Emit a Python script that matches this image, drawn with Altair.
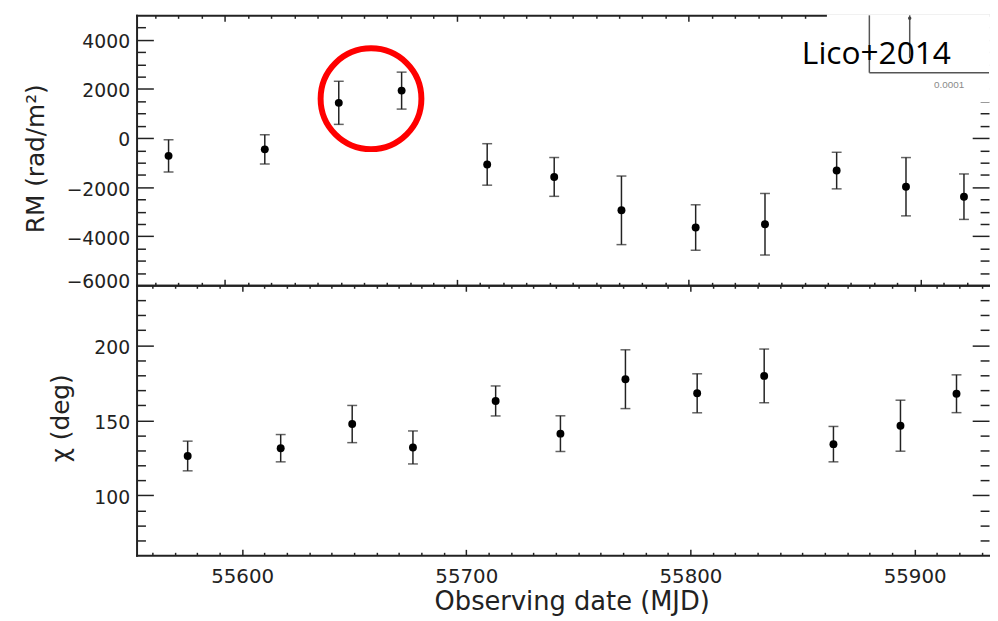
import altair as alt
import pandas as pd

# ---------------- values ----------------
mjd = [55575.7, 55617.2, 55649.1, 55676.2, 55713.1, 55742.0,
       55771.0, 55803.0, 55832.9, 55863.8, 55893.7, 55918.7]
rm = [-725, -460, 1435, 1933, -1075, -1584, -2945, -3645, -3512, -1325, -1983, -2389]
rm_err = [656, 596, 878, 753, 845, 791, 1397, 926, 1254, 745, 1188, 926]
chi = [126.2, 131.4, 147.5, 131.9, 162.9, 141.1, 177.4, 168.0, 179.6, 134.1, 146.4, 167.7]
chi_err = [9.9, 9.1, 12.4, 11.0, 10.0, 11.9, 19.6, 13.0, 17.9, 11.8, 17.0, 12.6]

# axis ranges and tick labels
x_top_domain = [55561.9, 55929.5]
x_bot_domain = [55552.9, 55933.2]
rm_domain = [-6000, 5000]
chi_domain = [60, 240]
x_major = [55600, 55700, 55800, 55900]
x_minor = [v for v in range(55560, 55940, 10) if v % 100 != 0]
rm_major = [-6000, -4000, -2000, 0, 2000, 4000]
rm_minor = [v for v in range(-6000, 5001, 500) if v % 2000 != 0]
chi_major = [100, 150, 200]
chi_minor = [v for v in range(60, 241, 10) if v % 50 != 0]

# annotations (data units of the upper panel)
circle_x, circle_y = [55663.0], [1603]
note_x, note_y, note_text = [55848.8], [2997], ["Lico+2014"]
cover_x, cover_x2, cover_y, cover_y2 = [55859.6], [55929.9], [1454], [5045]
inset_x = [55877.9, 55877.9, 55895.3]
inset_x2 = [55877.9, 55929.5, 55895.3]
inset_y = [2663, 2663, 3267]
inset_y2 = [5000, 2663, 5000]
inset_dot_x, inset_dot_y = [55895.3], [4879]
inset_lab_x, inset_lab_y, inset_lab = [55912.3], [2180], ["0.0001"]

W, H = 862, 273
FONT = "DejaVu Sans"
INK = "#222222"


def inside(vals, dom):
    return [v for v in vals if dom[0] < v < dom[1]]


def tick_axis(orient, values, offset, size, domain):
    return alt.Axis(orient=orient, values=values, offset=offset, labels=False,
                    grid=False, ticks=True, tickSize=size,
                    tickColor=INK, tickWidth=1.5, domain=domain, domainColor=INK,
                    domainWidth=2, domainCap="square", title=None, zindex=0)


def label_axis_y(values, title, tx, ty):
    return alt.Axis(orient="left", values=values, format="d", ticks=False, tickSize=0,
                    domain=False, grid=False, labelPadding=7, labelFont=FONT,
                    labelFontSize=19, labelColor=INK, labelFlush=False, labelOverlap=False,
                    labelOffset={"condition": {"test": "datum.value === -6000", "value": -4}, "value": 2},
                    title=title, titleFont=FONT, titleFontSize=25, titleFontWeight="normal",
                    titleColor=INK, titleAngle=270, titleAlign="center",
                    titleBaseline="alphabetic", titleX=tx, titleY=ty, zindex=0)


def label_axis_x():
    return alt.Axis(orient="bottom", values=x_major, format="d", ticks=False, tickSize=0,
                    domain=False, grid=False, labelPadding=12, labelFont=FONT,
                    labelFontSize=20, labelColor=INK, labelFlush=False, labelOverlap=False,
                    title="Observing date (MJD)", titleFont=FONT, titleFontSize=26,
                    titleFontWeight="normal", titleColor=INK, titleX=440, titleY=55,
                    titleAlign="center", titleBaseline="alphabetic", zindex=0)


def panel(vals, errs, xdom, ydom, ymajor, yminor, ytitle, tx, ty, bottom):
    df = pd.DataFrame({"mjd": mjd, "val": vals,
                       "lo": [v - e for v, e in zip(vals, errs)],
                       "hi": [v + e for v, e in zip(vals, errs)]})
    xs = alt.Scale(domain=xdom, nice=False, zero=False)
    ys = alt.Scale(domain=ydom, nice=False, zero=False)
    xM, xm = inside(x_major, xdom), inside(x_minor, xdom)
    yM, ym = inside(ymajor, ydom), inside(yminor, ydom)

    def X(field, axis):
        return alt.X(field, scale=xs, axis=axis)

    def Y(field, axis):
        return alt.Y(field, scale=ys, axis=axis)

    x_lab = label_axis_x() if bottom else None
    bars = alt.Chart(df).mark_rule(color=INK, strokeWidth=1.5).encode(
        x=X("mjd:Q", x_lab),
        y=Y("lo:Q", label_axis_y(ymajor, ytitle, tx, ty)),
        y2="hi:Q")
    dots = alt.Chart(df).mark_circle(size=64, color="black", opacity=1).encode(
        x=X("mjd:Q", None), y=Y("val:Q", None))
    caps_lo = alt.Chart(df).mark_tick(orient="horizontal", size=10, thickness=1.5, color=INK).encode(
        x=X("mjd:Q", None), y=Y("lo:Q", None))
    caps_hi = alt.Chart(df).mark_tick(orient="horizontal", size=10, thickness=1.5, color=INK).encode(
        x=X("mjd:Q", None), y=Y("hi:Q", None))
    layers = [bars, dots, caps_lo, caps_hi]

    # invisible carriers for the inward tick marks on all four borders
    axis_pairs = [
        (tick_axis("top", xm, -H, 3, True), tick_axis("right", ym, -W, 9, True)),      # bottom / left borders, minor
        (tick_axis("top", xM, -H, 6, False), tick_axis("right", yM, -W, 17, False)),   # bottom / left borders, major
        (tick_axis("bottom", xm, -H, 3, True), tick_axis("left", ym, -W, 9, False)),   # top / right borders, minor
        (tick_axis("bottom", xM, -H, 6, False), tick_axis("left", yM, -W, 17, False)),  # top / right borders, major
    ]
    for ax, ay in axis_pairs:
        layers.append(alt.Chart(df).mark_point(opacity=0).encode(
            x=X("mjd:Q", ax), y=Y("val:Q", ay)))

    if not bottom:
        cov = pd.DataFrame({"x": cover_x, "x2": cover_x2, "y": cover_y, "y2": cover_y2})
        layers.append(alt.Chart(cov).mark_rect(color="white").encode(
            x=X("x:Q", None), x2="x2:Q", y=Y("y:Q", None), y2="y2:Q"))
        ins = pd.DataFrame({"x": inset_x, "x2": inset_x2, "y": inset_y, "y2": inset_y2})
        layers.append(alt.Chart(ins).mark_rule(color="#555555", strokeWidth=1.5).encode(
            x=X("x:Q", None), x2="x2:Q", y=Y("y:Q", None), y2="y2:Q"))
        idot = pd.DataFrame({"x": inset_dot_x, "y": inset_dot_y})
        layers.append(alt.Chart(idot).mark_circle(size=12, color="#444444", opacity=1).encode(
            x=X("x:Q", None), y=Y("y:Q", None)))
        ilab = pd.DataFrame({"x": inset_lab_x, "y": inset_lab_y, "t": inset_lab})
        layers.append(alt.Chart(ilab).mark_text(font="Liberation Sans", fontSize=10,
                                                color="#8a8a8a", align="center",
                                                baseline="middle").encode(
            x=X("x:Q", None), y=Y("y:Q", None), text="t:N"))
        note = pd.DataFrame({"x": note_x, "y": note_y, "t": note_text})
        layers.append(alt.Chart(note).mark_text(font="Open Sans", fontSize=32, color="black",
                                                align="left", baseline="alphabetic").encode(
            x=X("x:Q", None), y=Y("y:Q", None), text="t:N"))
        circ = pd.DataFrame({"x": circle_x, "y": circle_y})
        layers.append(alt.Chart(circ).mark_point(shape="circle", filled=False, size=10387,
                                                 strokeWidth=6, color="#ff0000", opacity=1).encode(
            x=X("x:Q", None), y=Y("y:Q", None)))

    return alt.layer(*layers).resolve_scale(x="shared", y="shared").resolve_axis(
        x="independent", y="independent").properties(width=W, height=H)


top = panel(rm, rm_err, x_top_domain, rm_domain, rm_major, rm_minor,
            "RM (rad/m²)", -94, 144.5, False)
bottom = panel(chi, chi_err, x_bot_domain, chi_domain, chi_major, chi_minor,
               "χ (deg)", -69, 134, True)

chart = alt.vconcat(top, bottom, spacing=0, bounds="flush").properties(
    padding={"left": 16, "top": 2, "right": 0, "bottom": 0},
    background="white",
).configure_view(stroke=None)

chart.save("out.html", embed_options={"renderer": "svg", "actions": False})
